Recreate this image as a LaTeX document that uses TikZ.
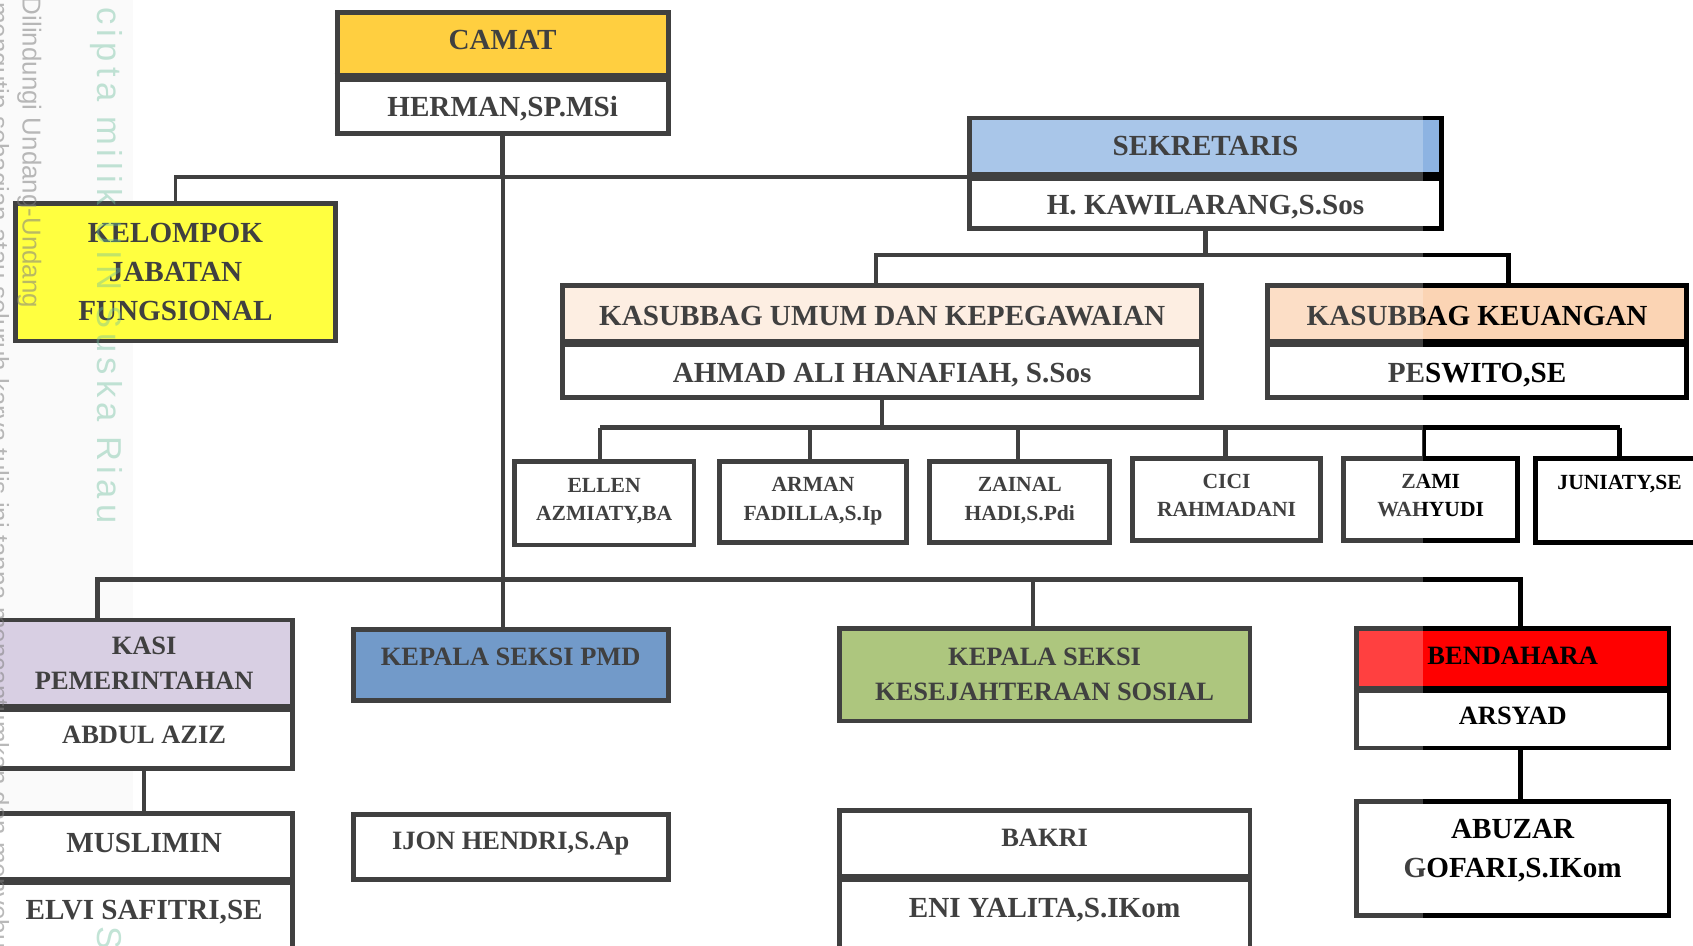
\documentclass[tikz,border=0pt]{standalone}
\usepackage{fontspec}
\setmainfont{Liberation Serif}
\newfontfamily\wmfont{Liberation Sans}
\newfontfamily\wmfontsp{Liberation Sans}[LetterSpace=15]
\definecolor{cCamat}{HTML}{FFC000}
\definecolor{cKel}{HTML}{FFFF00}
\definecolor{cSek}{HTML}{8DB3E2}
\definecolor{cUmum}{HTML}{FDE9D9}
\definecolor{cKeu}{HTML}{FBD4B4}
\definecolor{cKasi}{HTML}{CCC0DA}
\definecolor{cPmd}{HTML}{4479B8}
\definecolor{cKes}{HTML}{92B454}
\definecolor{cBend}{HTML}{FF0000}
\definecolor{cWmGray}{HTML}{808080}
\definecolor{cWmTeal}{HTML}{6FBF9F}
\newcommand{\fbig}{\bfseries\fontsize{27}{36}\selectfont}
\newcommand{\fmed}{\bfseries\fontsize{24.5}{32}\selectfont}
\newcommand{\fsml}{\bfseries\fontsize{20}{26}\selectfont}
% text box with given height and depth (vertical placement inside the box)
\newcommand{\tx}[3]{\raisebox{0pt}[#1pt][#2pt]{#3}}
% name, x1, y1, x2, y2, fill, font, text
\newcommand{\mkbox}[8]{%
  \node[orgbox, fill=#6, font=#7, minimum width={#4-#2-4.5}, minimum height={#5-#3-4.5}]
    (#1) at ({(#2+#4)/2},{(#3+#5)/2}) {#8};}
\begin{document}
\begin{tikzpicture}[x=1pt,y=-1pt,
  orgbox/.style={draw=black, line width=4.5pt, inner sep=0pt, align=center, text=black},
  conn/.style={draw=black, line width=4pt},
  thinconn/.style={draw=black, line width=3.5pt},
  divl/.style={draw=black, line width=#1},
  wmgray/.style={text=cWmGray, text opacity=0.55, font=\wmfont\fontsize{24}{24}\selectfont, rotate=-90, inner sep=0pt},
  wmteal/.style={text=cWmTeal, text opacity=0.42, font=\wmfontsp\fontsize{32}{32}\selectfont, rotate=-90, inner sep=0pt}]
\useasboundingbox (0,0) rectangle (1568,876);
\clip (0,0) rectangle (1568,876);
\fill[black!2.5] (0,0) rectangle (123,876);

% bus coordinates
\coordinate (bB1) at (811,236);
\coordinate (bB2) at (1397,236);
\coordinate (d1) at (556,396);
\coordinate (d2) at (750,396);
\coordinate (d3) at (943,396);
\coordinate (d4) at (1135,396);
\coordinate (d5) at (1319,396);
\coordinate (d6) at (1500,396);
\coordinate (c1) at (90,537);
\coordinate (c2) at (957,537);
\coordinate (c3) at (1408,537);

% boxes (lower/name box first, title box on top)
\mkbox{camat2}{310}{67.25}{621}{126}{white}{\fbig}{\tx{22.5}{0}{HERMAN,SP.MSi}}
\mkbox{camat1}{310}{9}{621}{71.75}{cCamat}{\fbig}{\tx{17.7}{6.8}{CAMAT}}
\mkbox{sek2}{896}{159.25}{1337}{214}{white}{\fbig}{\tx{24.5}{0}{H. KAWILARANG,S.Sos}}
\mkbox{sek1}{896}{107}{1337}{163.75}{cSek}{\fbig}{\tx{17.7}{0.8}{SEKRETARIS}}
\mkbox{kel}{12}{186}{313}{318}{cKel}{\fbig}{KELOMPOK\\JABATAN\\FUNGSIONAL}
\mkbox{umum2}{519}{314}{1115}{370}{white}{\fbig}{\tx{23.7}{0}{AHMAD ALI HANAFIAH, S.Sos}}
\mkbox{umum1}{519}{262}{1115}{318.5}{cUmum}{\fbig}{\tx{23.2}{0}{KASUBBAG UMUM DAN KEPEGAWAIAN}}
\mkbox{keu2}{1172}{314}{1564}{370}{white}{\fbig}{\tx{23.7}{0}{PESWITO,SE}}
\mkbox{keu1}{1172}{262}{1564}{318.5}{cKeu}{\fbig}{\tx{23.2}{0}{KASUBBAG KEUANGAN}}
\mkbox{s1}{474}{425}{645}{507}{white}{\fsml}{ELLEN\\AZMIATY,BA\rule[-7pt]{0pt}{7pt}}
\mkbox{s2}{664}{425}{842}{505}{white}{\fsml}{ARMAN\\FADILLA,S.Ip\rule[-6pt]{0pt}{6pt}}
\mkbox{s3}{859}{425}{1030}{505}{white}{\fsml}{ZAINAL\\HADI,S.Pdi\rule[-6pt]{0pt}{6pt}}
\mkbox{s4}{1047}{422}{1225}{503}{white}{\fsml}{CICI\\RAHMADANI\rule[-7pt]{0pt}{7pt}}
\mkbox{s5}{1242}{422}{1408}{503}{white}{\fsml}{ZAMI\\WAHYUDI\rule[-7pt]{0pt}{7pt}}
\mkbox{s6}{1420}{422}{1580}{505}{white}{\fsml}{\tx{13.1}{33}{JUNIATY,SE}}
\mkbox{kasi2}{-6}{652.25}{273}{714}{white}{\fmed}{\tx{16}{4.2}{ABDUL AZIZ}}
\mkbox{kasi1}{-6}{572}{273}{656.75}{cKasi}{\fmed}{KASI\\PEMERINTAHAN}
\mkbox{elvi}{-6}{812.5}{273}{885}{white}{\fbig}{\tx{17.7}{11.5}{ELVI SAFITRI,SE}}
\mkbox{musl}{-6}{751}{273}{817}{white}{\fbig}{\tx{17.7}{6}{MUSLIMIN}}
\mkbox{pmd}{325}{580.5}{621}{651}{cPmd}{\fmed}{\tx{16}{15.5}{KEPALA SEKSI PMD}}
\mkbox{ijon}{325}{752}{621}{816.5}{white}{\fmed}{\tx{16}{10.5}{IJON HENDRI,S.Ap}}
\mkbox{kes}{775}{579.5}{1160}{670}{cKes}{\fmed}{KEPALA SEKSI\\KESEJAHTERAAN SOSIAL}
\mkbox{eni}{775}{809.5}{1160}{885}{white}{\fbig}{\tx{17.7}{12.5}{ENI YALITA,S.IKom}}
\mkbox{bakri}{775}{748.5}{1160}{814}{white}{\fmed}{\tx{16}{10.5}{BAKRI}}
\mkbox{bend2}{1254}{635}{1548}{695}{white}{\fmed}{\tx{16}{4}{ARSYAD}}
\mkbox{bend1}{1254}{579.5}{1548}{639.5}{cBend}{\fmed}{\tx{16}{5}{BENDAHARA}}
\mkbox{abuzar}{1254}{740}{1548}{850}{white}{\fbig}{ABUZAR\\GOFARI,S.IKom\rule[-18pt]{0pt}{18pt}}

% thick dividers between title and name boxes
\draw[divl=9pt] (camat1.south west) -- (camat1.south east);
\draw[divl=7pt] (sek1.south west) -- (sek1.south east);
\draw[divl=6.5pt] (umum1.south west) -- (umum1.south east);
\draw[divl=6.5pt] (keu1.south west) -- (keu1.south east);
\draw[divl=5.5pt] (kasi1.south west) -- (kasi1.south east);
\draw[divl=5.5pt] (musl.south west) -- (musl.south east);
\draw[divl=6.5pt] (bakri.south west) -- (bakri.south east);
\draw[divl=5.5pt] (bend1.south west) -- (bend1.south east);

% connectors
\draw[line width=5pt] (camat2.south) -- (camat2.south |- sek1.south west);
\draw[thinconn] (camat2.south |- sek1.south west) -- (camat2.south |- pmd.north);
\draw[thinconn] (kel.north) |- (sek1.south west);
\draw[line width=5pt] (sek2.south) -- (sek2.south |- bB1);
\draw[conn] (umum1.north -| bB1) -- (bB1) -- (bB2) -- (keu1.north -| bB2);
\draw[conn] (umum2.south) -- (umum2.south |- d1);
\draw[conn] (d1) -- (d6);
\draw[conn] (d1) -- (d1 |- s1.north);
\draw[conn] (d2) -- (d2 |- s2.north);
\draw[conn] (d3) -- (d3 |- s3.north);
\draw[conn] (d4) -- (d4 |- s4.north);
\draw[conn] (d5) -- (d5 |- s5.north);
\draw[conn] (d6) -- (d6 |- s6.north);
\draw[conn, line width=4.5pt] (kasi1.north -| c1) -- (c1) -- (c3) -- (bend1.north -| c3);
\draw[conn] (c2) -- (c2 |- kes.north);
\draw[conn, line width=4.5pt] (bend2.south -| c3) -- (abuzar.north -| c3);
\draw[conn] (kasi2.south) -- (kasi2.south |- musl.north);

% scan overlay
\fill[white, opacity=0.25] (0,0) rectangle (1318,876);

% watermark texts
\node[wmgray, anchor=base west] (wm0) at (-9,2) {mengutip sebagian atau seluruh karya tulis ini tanpa mencantumkan dan menyebutkan sumber};
\node[wmgray, anchor=base west] (wm1) at (21,-3) {Dilindungi Undang-Undang};
\node[wmteal, anchor=base east] (wm2) at (90,485) {Hak cipta milik UIN Suska Riau};
\node[wmteal, anchor=base west] (wm3) at (90,858) {State Islamic University};
\end{tikzpicture}
\end{document}
